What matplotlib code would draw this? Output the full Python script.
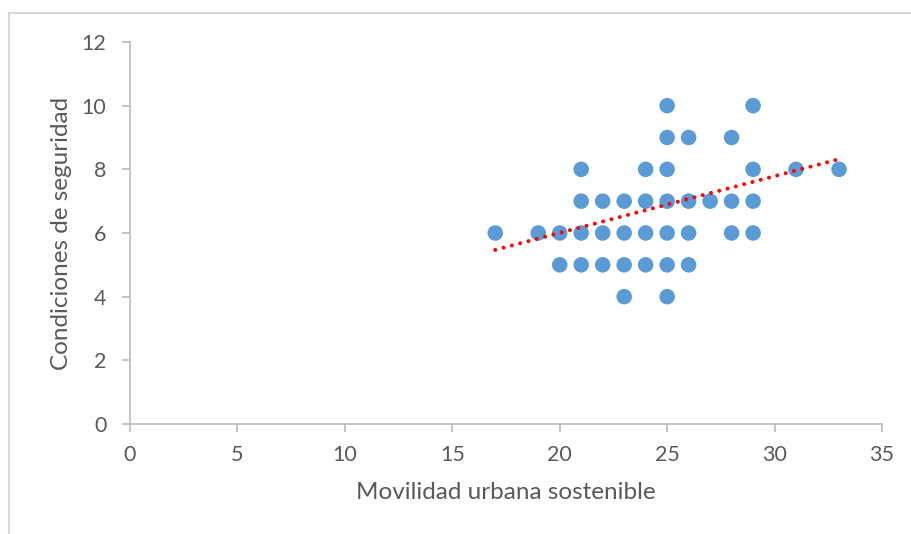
import matplotlib
matplotlib.use("Agg")
import matplotlib.pyplot as plt
from matplotlib.lines import Line2D

# Survey scores: sustainable urban mobility vs. safety conditions
movilidad = [25, 29,
             25, 26, 28,
             21, 24, 25, 29, 31, 33,
             21, 22, 23, 24, 25, 26, 27, 28, 29,
             17, 19, 20, 21, 22, 23, 24, 25, 26, 28, 29,
             20, 21, 22, 23, 24, 25, 26,
             23, 25]
seguridad = [10, 10,
             9, 9, 9,
             8, 8, 8, 8, 8, 8,
             7, 7, 7, 7, 7, 7, 7, 7, 7,
             6, 6, 6, 6, 6, 6, 6, 6, 6, 6, 6,
             5, 5, 5, 5, 5, 5, 5,
             4, 4]

# Linear trend line endpoints
trend_x = [17, 33]
trend_y = [5.47, 8.32]

x_ticks = [0, 5, 10, 15, 20, 25, 30, 35]
y_ticks = [0, 2, 4, 6, 8, 10, 12]

plt.rcParams['font.family'] = ['Lato', 'DejaVu Sans']
text_color = '#595959'
axis_color = '#BFBFBF'

W, H = 911, 534
fig = plt.figure(figsize=(W / 100, H / 100), dpi=100)
fig.patch.set_facecolor('white')

# Chart area frame (top and left edges)
fig.add_artist(Line2D([9 / W, 1.0], [1 - 12.5 / H, 1 - 12.5 / H],
                      transform=fig.transFigure, color='#D9D9D9', lw=1.5))
fig.add_artist(Line2D([9 / W, 9 / W], [0.0, 1 - 12.5 / H],
                      transform=fig.transFigure, color='#D9D9D9', lw=1.5))

ax = fig.add_axes([130 / W, 1 - 424 / H, (882 - 130) / W, (424 - 42) / H])

ax.scatter(movilidad, seguridad, s=125, color='#5B9BD5', edgecolors='none',
           zorder=3, clip_on=False)
ax.plot(trend_x, trend_y, color='#FF0000', lw=2.9,
        dashes=(0.01, 2.12), dash_capstyle='round', zorder=4)

ax.set_xlim(0, 35)
ax.set_ylim(0, 12)
ax.set_xticks(x_ticks)
ax.set_yticks(y_ticks)

for side in ('top', 'right'):
    ax.spines[side].set_visible(False)
for side in ('left', 'bottom'):
    ax.spines[side].set_color(axis_color)
    ax.spines[side].set_linewidth(1.3)

ax.tick_params(axis='both', direction='out', length=6, width=1.3,
               color=axis_color, labelcolor=text_color, labelsize=15.5)
ax.tick_params(axis='y', pad=11)
ax.tick_params(axis='x', pad=9)

ax.set_xlabel('Movilidad urbana sostenible', color=text_color, fontsize=17.5,
              labelpad=12)
ax.set_ylabel('Condiciones de seguridad', color=text_color, fontsize=17.5,
              labelpad=7)

fig.savefig('out.png', dpi=100, facecolor='white')
